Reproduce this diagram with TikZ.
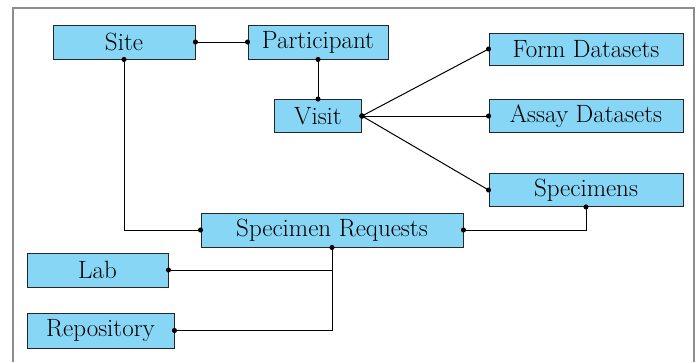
\documentclass[tikz,border=0pt]{standalone}
\usetikzlibrary{positioning,arrows.meta,calc}

\definecolor{boxblue}{RGB}{135,214,245}
\definecolor{framegray}{RGB}{140,140,146}

\tikzset{
    entity/.style={draw=black!85, fill=boxblue, line width=0.9bp,
        inner sep=0pt, minimum height=34bp,
        font=\fontsize{25bp}{30bp}\selectfont},
    link/.style={line width=1bp, shorten <=-2.5bp, shorten >=-2.5bp,
        {Circle[length=5bp,width=5bp]}-{Circle[length=5bp,width=5bp]}},
    halflink/.style={line width=1bp, shorten <=-2.5bp,
        {Circle[length=5bp,width=5bp]}-}
}

\begin{document}
\begin{tikzpicture}[x=1bp, y=-1bp]
                    \useasboundingbox (0, 0) rectangle (699, 362);
                    % Frame
                    \draw[framegray, line width=2bp] (13, 362) -- (13, 8) -- (694, 8) -- (694, 362);
                    % Top row
                    \node[entity, minimum width=142bp] (site) at (124, 42) {Site};
                    \node[entity, minimum width=140bp] (participant) at (318, 42) {Participant};
                    \node[entity, minimum width=87bp, minimum height=33bp] (visit) at (318, 116) {Visit};
                    % Datasets
                    \node[entity, minimum width=194bp, minimum height=32bp] (forms) at (586, 49) {Form Datasets};
                    \node[entity, minimum width=194bp, minimum height=33bp] (assays) at (586, 116) {Assay Datasets};
                    \node[entity, minimum width=194bp, minimum height=33bp] (specimens) at (586, 190) {Specimens};
                    % Requests
                    \node[entity, minimum width=262bp] (requests) at (332, 230) {Specimen Requests};
                    \node[entity, minimum width=141bp] (lab) at (97.5, 270) {Lab};
                    \node[entity, minimum width=147bp, minimum height=35bp] (repository) at (100.5, 330.5) {Repository};
                    % Links
                    \draw[link] (site.east) -- (participant.west);
                    \draw[link] (participant.south) -- (visit.north);
                    \draw[link] (visit.east) -- (forms.west);
                    \draw[link] (visit.east) -- (assays.west);
                    \draw[link] (visit.east) -- (specimens.west);
                    \draw[link] (site.south) |- (requests.west);
                    \draw[link] (specimens.south) |- (requests.east);
                    \draw[link] (requests.south) |- (repository.east);
                    \draw[halflink] (lab.east) -- (lab.east -| requests.south);
                \end{tikzpicture}
\end{document}
